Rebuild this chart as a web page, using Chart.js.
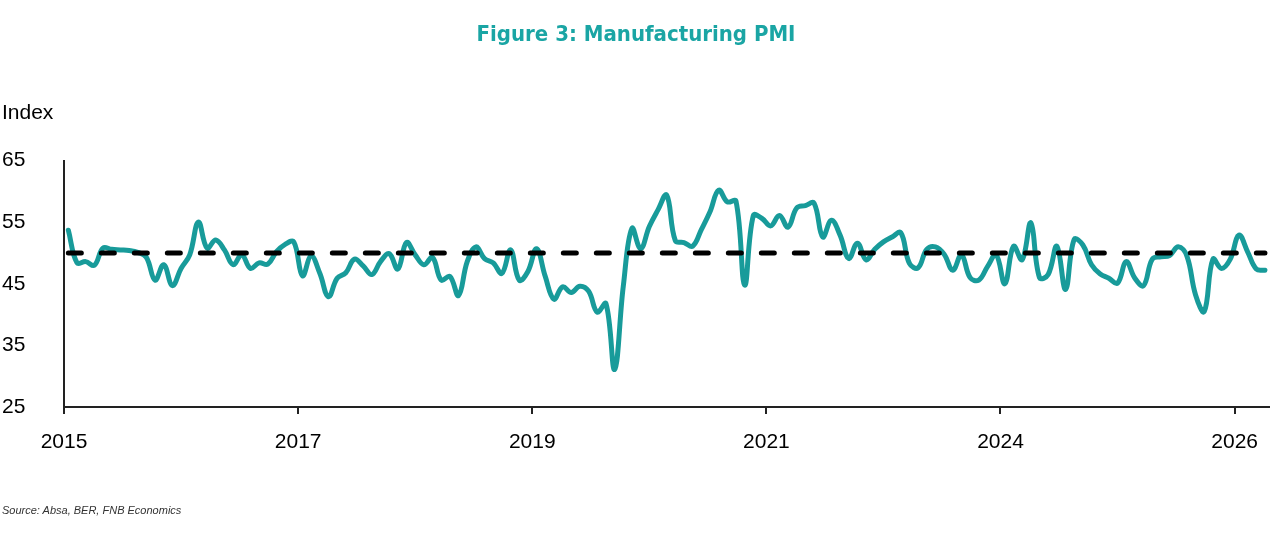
<!DOCTYPE html>
<html>
<head>
<meta charset="utf-8">
<script src="https://cdn.jsdelivr.net/npm/chart.js@4.4.1/dist/chart.umd.min.js"></script>
<style>
  html, body { margin: 0; padding: 0; background: #ffffff; }
  #wrap { position: relative; width: 1281px; height: 545px; }
  #source {
    position: absolute; left: 2px; top: 504px;
    font: italic 11px 'Liberation Sans', Arial, sans-serif; color: #333333;
  }
</style>
</head>
<body>
<div id="wrap">
  <canvas id="chart"></canvas>
  <div id="source">Source: Absa, BER, FNB Economics</div>
</div>
<script>
// ---- Data ----
const startYear = 2015;
const monthCount = 139; // Jan 2015 .. Jul 2026
const monthNames = ['Jan','Feb','Mar','Apr','May','Jun','Jul','Aug','Sep','Oct','Nov','Dec'];
const categories = [];
for (let i = 0; i < monthCount; i++) {
  categories.push(monthNames[i % 12] + ' ' + (startYear + Math.floor(i / 12)));
}

const pmiValues = [
  53.7, 48.4, 48.6, 48.0, 50.8, 50.6, 50.5, 50.4, 50.1, 49.3,
  45.6, 48.1, 44.7, 47.5, 49.7, 55.0, 50.8, 52.1, 50.5, 48.1,
  49.7, 47.5, 48.4, 48.2, 50.2, 51.4, 51.8, 46.3, 49.5, 46.7,
  42.9, 45.9, 46.8, 49.0, 47.9, 46.5, 48.6, 49.9, 47.4, 51.7,
  49.7, 48.1, 49.3, 45.6, 46.2, 43.1, 48.6, 51.0, 49.1, 48.4,
  46.7, 50.5, 45.6, 47.0, 50.7, 46.2, 42.5, 44.5, 43.6, 44.6,
  43.8, 40.4, 41.8, 31.1, 44.6, 54.0, 50.7, 54.3, 57.0, 59.4,
  52.0, 51.7, 51.1, 53.8, 56.7, 60.2, 58.3, 58.4, 44.8, 56.1,
  55.6, 54.4, 56.1, 54.2, 57.3, 57.7, 58.1, 52.6, 55.3, 52.9,
  49.1, 51.6, 48.9, 50.6, 51.8, 52.6, 53.3, 48.3, 47.6, 50.6,
  51.0, 49.8, 47.2, 49.7, 46.0, 45.6, 47.8, 49.7, 45.0, 51.1,
  48.9, 54.9, 46.0, 46.5, 51.1, 44.1, 52.2, 51.3, 48.1, 46.6,
  45.9, 45.1, 48.6, 45.9, 44.7, 49.0, 49.4, 49.6, 51.0, 49.5,
  43.2, 40.5, 49.0, 47.5, 49.0, 52.9, 50.2, 47.4, 47.2
];

const neutralLevel = 50;
const neutralValues = categories.map(() => neutralLevel);

const yTickValues = [25, 35, 45, 55, 65];
const xLabelEvery = 27; // months between labelled ticks

// ---- Chart ----
const teal = '#189b9a';
const baseFont = "'Liberation Sans', Arial, Helvetica, sans-serif";

new Chart(document.getElementById('chart'), {
  type: 'line',
  data: {
    labels: categories,
    datasets: [
      {
        label: 'Neutral (50)',
        data: neutralValues,
        borderColor: '#000000',
        borderWidth: 5,
        borderDash: [13, 20],
        borderCapStyle: 'round',
        pointRadius: 0,
        tension: 0,
        fill: false
      },
      {
        label: 'Manufacturing PMI',
        data: pmiValues,
        borderColor: teal,
        borderWidth: 5,
        pointRadius: 0,
        tension: 0.4,
        borderJoinStyle: 'round',
        borderCapStyle: 'round',
        fill: false
      }
    ]
  },
  options: {
    responsive: true,
    maintainAspectRatio: false,
    animation: false,
    devicePixelRatio: 1,
    layout: { padding: { left: 2, right: 11, top: 0, bottom: 88 } },
    plugins: {
      legend: { display: false },
      tooltip: { enabled: false },
      title: {
        display: true,
        text: 'Figure 3: Manufacturing PMI',
        color: '#1aa5a4',
        font: { family: "'DejaVu Sans Condensed', 'Liberation Sans', sans-serif", size: 22, weight: 'bold' },
        padding: { top: 22, bottom: 0 }
      },
      subtitle: {
        display: true,
        text: 'Index',
        align: 'start',
        color: '#000000',
        font: { family: baseFont, size: 21 },
        padding: { top: 52, bottom: 35 }
      }
    },
    scales: {
      x: {
        type: 'category',
        offset: true,
        grid: {
          display: true,
          offset: true,
          drawOnChartArea: false,
          drawTicks: true,
          tickLength: 7,
          lineWidth: 2,
          color: (ctx) => (ctx.index % xLabelEvery === 0 && ctx.index < monthCount) ? '#222222' : 'rgba(0,0,0,0)'
        },
        border: { display: true, color: '#222222', width: 2 },
        ticks: {
          autoSkip: false,
          maxRotation: 0,
          padding: 16,
          labelOffset: -4.3,
          color: '#000000',
          font: { family: baseFont, size: 21 },
          callback: function (value, index) {
            if (index % xLabelEvery !== 0) return '';
            const lbl = this.getLabelForValue(value);
            return lbl.split(' ')[1];
          }
        },
        afterFit: (scale) => { scale.height = 50; }
      },
      y: {
        min: 25,
        max: 65,
        afterBuildTicks: (scale) => { scale.ticks = yTickValues.map(v => ({ value: v })); },
        grid: { display: false, drawTicks: false },
        border: { display: true, color: '#222222', width: 2 },
        ticks: {
          crossAlign: 'far',
          padding: 0,
          color: '#000000',
          font: { family: baseFont, size: 21 }
        },
        afterFit: (scale) => { scale.width = 62; }
      }
    }
  }
});
</script>
</body>
</html>
